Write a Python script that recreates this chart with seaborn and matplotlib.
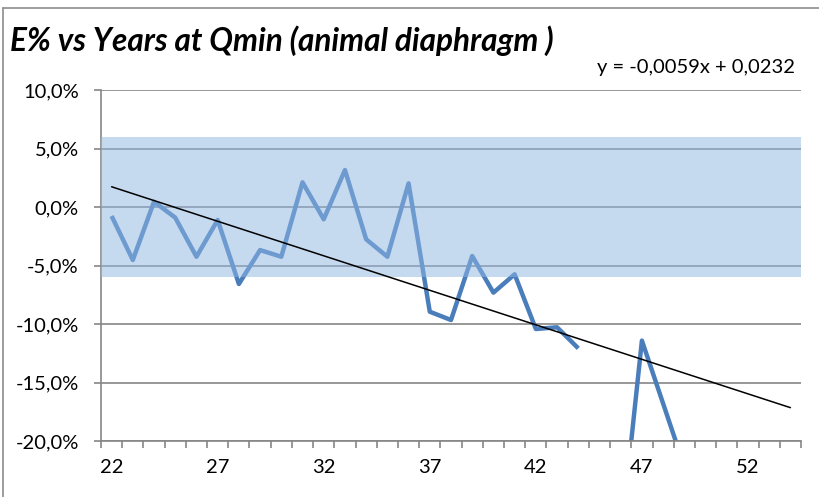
import numpy as np
import pandas as pd
import matplotlib
matplotlib.use("Agg")
import matplotlib.pyplot as plt
from matplotlib import font_manager
from matplotlib.lines import Line2D
import seaborn as sns

# ---- data ----
years_a = [22, 23, 24, 25, 26, 27, 28, 29, 30, 31, 32, 33, 34, 35, 36, 37, 38, 39, 40, 41, 42, 43, 44]
e_a = [-0.0077, -0.0453, 0.0045, -0.0091, -0.0425, -0.0111, -0.0658, -0.0368, -0.0425, 0.0211,
       -0.0105, 0.0316, -0.0276, -0.0425, 0.0202, -0.0895, -0.0966, -0.0419, -0.0732, -0.0575,
       -0.1043, -0.1028, -0.1208]
years_b = [46, 47, 48, 49]
e_b = [-0.285, -0.1142, -0.168, -0.222]
trend_slope = -0.0059
trend_intercept = 0.0232
first_cat, last_cat = 22, 54
band_low, band_high = -0.06, 0.06
title_text = "E% vs Years at Qmin (animal diaphragm )"
eq_text = "y = -0,0059x + 0,0232"
x_tick_labels = [22, 27, 32, 37, 42, 47, 52]
y_ticks = [-0.20, -0.15, -0.10, -0.05, 0.0, 0.05, 0.10]

sns.set_theme(style="white")
avail = {f.name for f in font_manager.fontManager.ttflist}
fam = next((f for f in ["Lato", "Open Sans", "Liberation Sans", "DejaVu Sans"] if f in avail))
plt.rcParams['font.family'] = [fam, 'DejaVu Sans']

W, H = 819, 497
fig = plt.figure(figsize=(W / 100, H / 100), dpi=100)
renderer = fig.canvas.get_renderer()


def fit_size(text, target_px, **kw):
    t = fig.text(0, 0, text, fontsize=20, **kw)
    w = t.get_window_extent(renderer).width
    t.remove()
    return 20 * target_px / w


tick_fs = fit_size("10,0%", 56)
title_fs = fit_size(title_text, 545, fontweight="bold", fontstyle="italic")
eq_fs = fit_size(eq_text, 198)

L, R, T, B = 101, 801, 90, 441
ax = fig.add_axes([L / W, 1 - B / H, (R - L) / W, (B - T) / H])

df = pd.DataFrame({
    "year": years_a + years_b,
    "e": e_a + e_b,
    "seg": [0] * len(years_a) + [1] * len(years_b),
})
sns.lineplot(data=df, x="year", y="e", units="seg", estimator=None, color="#4a7ebb",
             linewidth=3.2, ax=ax, zorder=2, solid_capstyle="butt")

ax.axhspan(band_low, band_high, color="#91b6e2", alpha=0.52, lw=0, zorder=3)

cats = np.arange(first_cat, last_cat + 1)
idx = cats - first_cat + 1
ax.plot(cats, trend_intercept + trend_slope * idx, color="black", lw=1.1, zorder=4)

ax.set_xlim(first_cat - 0.5, last_cat + 0.5)
ax.set_ylim(min(y_ticks), max(y_ticks))
ax.set_yticks(y_ticks)
ax.set_yticklabels([f"{v*100:.1f}%".replace(".", ",") for v in y_ticks])
ax.set_xticks(np.arange(first_cat - 0.5, last_cat + 0.51, 1.0))
ax.set_xticklabels([])
ax.set_xticks(x_tick_labels, minor=True)
ax.set_xticklabels([str(v) for v in x_tick_labels], minor=True)
ax.set_xlabel("")
ax.set_ylabel("")

gray = "#868686"
ax.yaxis.grid(True, color=gray, lw=1.2, zorder=0.5)
ax.xaxis.grid(False)
ax.set_axisbelow(True)
for s in ["top", "right"]:
    ax.spines[s].set_visible(False)
for s in ["left", "bottom"]:
    ax.spines[s].set_color(gray)
    ax.spines[s].set_linewidth(1.2)
ax.tick_params(axis="y", which="major", length=5, width=1.2, color=gray, pad=11,
               labelsize=tick_fs, labelcolor="black", left=True)
ax.tick_params(axis="x", which="major", length=5, width=1.2, color=gray, bottom=True)
ax.tick_params(axis="x", which="minor", length=0, pad=13, labelsize=tick_fs, labelcolor="black", bottom=True)

fig.text(10 / W, 1 - 41 / H, title_text, fontsize=title_fs, fontweight="bold", fontstyle="italic",
         ha="left", va="center", color="black")
fig.text(795 / W, 1 - 67 / H, eq_text, fontsize=eq_fs, ha="right", va="center", color="black")

fig.add_artist(Line2D([3 / W, 1.0], [1 - 8 / H, 1 - 8 / H], color="#8c8c8c", lw=1.2, transform=fig.transFigure))
fig.add_artist(Line2D([3 / W, 3 / W], [1 - 8 / H, 0.0], color="#8c8c8c", lw=1.2, transform=fig.transFigure))

fig.savefig("out.png", dpi=100)
